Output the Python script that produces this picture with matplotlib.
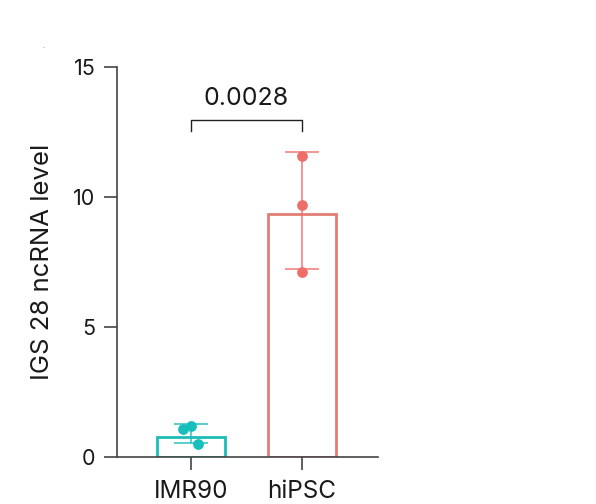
import matplotlib.pyplot as plt
import numpy as np

plt.rcParams['font.family'] = ['Inter', 'DejaVu Sans']

groups = ['IMR90', 'hiPSC']
bar_heights = [0.77, 9.35]
err_centers = [0.90, 9.48]
err_low = [0.54, 7.23]
err_high = [1.27, 11.73]
points = [[1.08, 1.19, 0.50], [11.58, 9.69, 7.12]]
point_dx = [[-0.07, 0.0, 0.06], [0.0, 0.0, 0.0]]
p_value = '0.0028'

colors = ['#17BEBB', '#EE6F6A']
edge_colors = ['#1CBCBA', '#E37C75']

fig = plt.figure(figsize=(5.96, 5.04), dpi=100)
ax = fig.add_axes([0.1963, 0.0933, 0.4379, 0.7738])

x = np.arange(len(groups))
ax.bar(x, bar_heights, width=0.62, facecolor='none', edgecolor=edge_colors, linewidth=2.0, zorder=2)

for i in range(len(groups)):
    lo = err_centers[i] - err_low[i]
    hi = err_high[i] - err_centers[i]
    ax.errorbar(x[i], err_centers[i], yerr=[[lo], [hi]], fmt='none', ecolor=colors[i],
                elinewidth=1.2, capsize=12, capthick=1.2, alpha=0.85, zorder=3)
    ax.scatter(x[i] + np.array(point_dx[i]), points[i], s=60, color=colors[i], zorder=4, linewidths=0)

# significance bracket
y_br = 12.96
ax.plot([0, 0, 1, 1], [12.54, y_br, y_br, 12.54], color='#222222', lw=1.0, clip_on=False)
ax.text(0.5, 13.35, p_value, ha='center', va='bottom', fontsize=18, color='#1a1a1a')

ax.set_xlim(-0.667, 1.685)
ax.set_ylim(0, 15)
ax.set_yticks([0, 5, 10, 15])
ax.set_xticks(x)
ax.set_xticklabels(groups, fontsize=17.5)
ax.set_ylabel('IGS 28 ncRNA level', fontsize=18.5, labelpad=14, color='#1a1a1a')

for s in ['top', 'right']:
    ax.spines[s].set_visible(False)
for s in ['left', 'bottom']:
    ax.spines[s].set_color('#444444')
    ax.spines[s].set_linewidth(1.2)
ax.tick_params(axis='both', length=9.4, width=1.2, color='#444444', pad=6, labelcolor='#1a1a1a')
ax.tick_params(axis='y', labelsize=15.5)
ax.tick_params(axis='x', pad=7)

fig.text(0.071, 0.905, '.', fontsize=6, color='#555555')

plt.savefig('out.png', dpi=100)
